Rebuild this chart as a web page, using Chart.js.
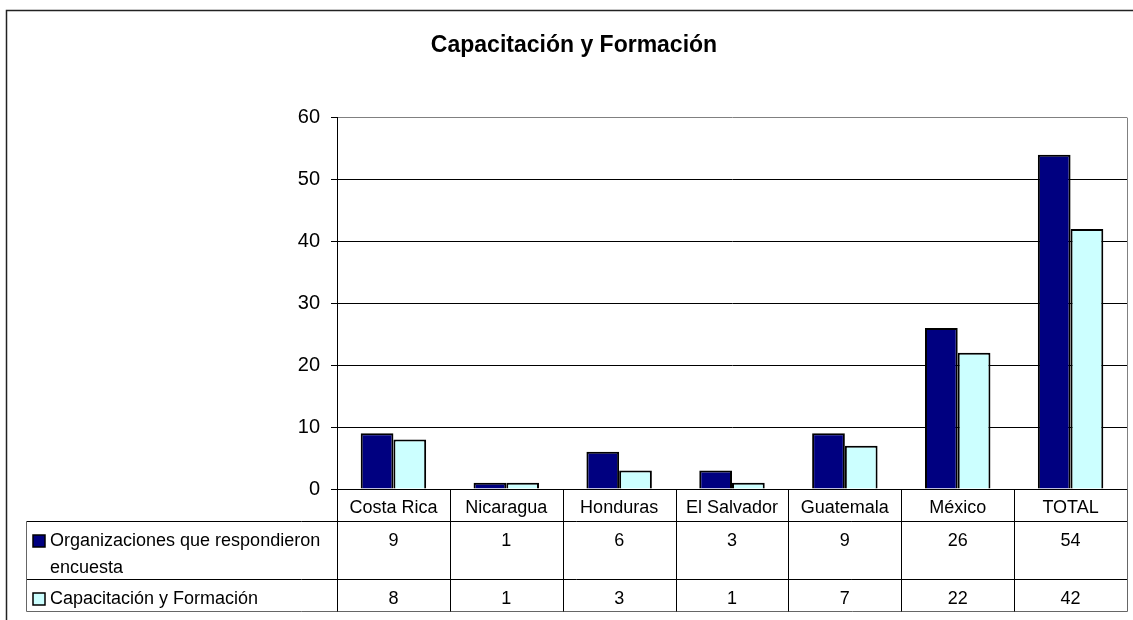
<!DOCTYPE html>
<html>
<head>
<meta charset="utf-8">
<script src="https://cdn.jsdelivr.net/npm/chart.js@4/dist/chart.umd.min.js"></script>
<style>
  html, body { margin: 0; padding: 0; background: #fff; }
  #wrap { width: 1133px; height: 620px; }
</style>
</head>
<body>
<div id="wrap"><canvas id="myChart" width="1133" height="620"></canvas></div>
<script>
var categories = ['Costa Rica', 'Nicaragua', 'Honduras', 'El Salvador', 'Guatemala', 'México', 'TOTAL'];
var organizaciones = [9, 1, 6, 3, 9, 26, 54];
var capacitacion = [8, 1, 3, 1, 7, 22, 42];
var seriesNames = [['Organizaciones que respondieron', 'encuesta'], ['Capacitación y Formación']];
var seriesColors = ['#000080', '#CCFFFF'];

var FONT = 'Arial, "Liberation Sans", sans-serif';

// outer frame + data table under the x axis
var tablePlugin = {
  id: 'dataTable',
  beforeDatasetsDraw: function (chart) {
    var c = chart.ctx, a = chart.chartArea;
    c.save();
    c.strokeStyle = '#808080';
    c.lineWidth = 1;
    c.beginPath();
    c.moveTo(a.right + 0.5, a.top);
    c.lineTo(a.right + 0.5, a.bottom);
    c.stroke();
    c.restore();
  },
  afterDraw: function (chart) {
    var c = chart.ctx, a = chart.chartArea, x = chart.scales.x;
    var rows = [a.bottom, 521.5, 579.5, 611.5];
    var tableLeft = 26.5;
    var catW = (a.right - a.left) / categories.length;
    c.save();

    // outer chart border
    c.strokeStyle = '#222';
    c.lineWidth = 1.5;
    c.beginPath();
    c.moveTo(6.5, 620);
    c.lineTo(6.5, 10.5);
    c.lineTo(1133, 10.5);
    c.stroke();

    // horizontal table lines
    c.lineWidth = 1;
    c.strokeStyle = '#000';
    c.beginPath();
    c.moveTo(tableLeft, rows[1]); c.lineTo(a.right, rows[1]);
    c.moveTo(tableLeft, rows[2]); c.lineTo(a.right, rows[2]);
    c.stroke();
    c.strokeStyle = '#666';
    c.beginPath();
    c.moveTo(tableLeft, rows[3]); c.lineTo(a.right + 0.5, rows[3]);
    c.moveTo(tableLeft, rows[1]); c.lineTo(tableLeft, rows[3]);
    c.moveTo(a.right + 0.5, a.bottom); c.lineTo(a.right + 0.5, rows[3]);
    c.stroke();

    // vertical separators
    c.strokeStyle = '#000';
    c.beginPath();
    for (var k = 0; k < categories.length; k++) {
      var vx = Math.round(a.left + k * catW) + 0.5;
      c.moveTo(vx, a.bottom);
      c.lineTo(vx, rows[3]);
    }
    c.stroke();

    // row labels with legend keys
    var allData = [organizaciones, capacitacion];
    var textY = [541, 599];
    c.font = '18px ' + FONT;
    c.textBaseline = 'middle';
    c.fillStyle = '#000';
    for (var s = 0; s < allData.length; s++) {
      c.fillStyle = seriesColors[s];
      c.fillRect(33, textY[s] - 6, 12, 12);
      c.strokeStyle = '#000';
      c.lineWidth = 1.5;
      c.strokeRect(33, textY[s] - 6, 12, 12);
      c.fillStyle = '#000';
      c.textAlign = 'left';
      for (var l = 0; l < seriesNames[s].length; l++) {
        c.fillText(seriesNames[s][l], 50, textY[s] + l * 27);
      }
      c.textAlign = 'center';
      for (var i = 0; i < allData[s].length; i++) {
        c.fillText(String(allData[s][i]), x.getPixelForValue(i), textY[s]);
      }
    }
    c.restore();
  }
};

var ctx = document.getElementById('myChart');

var myChart = new Chart(ctx, {
  type: 'bar',
  data: {
    labels: categories,
    datasets: [{
      label: seriesNames[0].join(' '),
      data: organizaciones,
      backgroundColor: seriesColors[0],
      borderColor: '#000',
      borderWidth: 2
    }, {
      label: seriesNames[1][0],
      data: capacitacion,
      backgroundColor: seriesColors[1],
      borderColor: '#000',
      borderWidth: 2
    }]
  },
  options: {
    responsive: false,
    animation: false,
    layout: { padding: { left: 21, right: 6, top: 0, bottom: 0 } },
    categoryPercentage: 0.58,
    barPercentage: 1,
    plugins: {
      legend: { display: false },
      tooltip: { enabled: false },
      title: {
        display: true,
        text: 'Capacitación y Formación',
        color: '#000',
        font: { family: FONT, size: 23, weight: 'bold' },
        padding: { top: 32, bottom: 58 }
      }
    },
    scales: {
      x: {
        grid: { display: false, drawTicks: false },
        border: { display: true, color: '#000', width: 1 },
        ticks: { color: '#000', font: { family: FONT, size: 18 }, padding: 8, autoSkip: false, maxRotation: 0 },
        afterFit: function (scale) { scale.height = 131; }
      },
      y: {
        min: 0,
        max: 60,
        ticks: { stepSize: 10, color: '#000', font: { family: FONT, size: 20 }, padding: 11 },
        grid: {
          color: function (c) { return c.tick && c.tick.value === 60 ? '#808080' : '#000'; },
          tickColor: '#000',
          tickLength: 6
        },
        border: { display: true, color: '#000', width: 1 },
        afterFit: function (scale) { scale.width = 316; }
      }
    }
  },
  plugins: [tablePlugin]
});
</script>
</body>
</html>
